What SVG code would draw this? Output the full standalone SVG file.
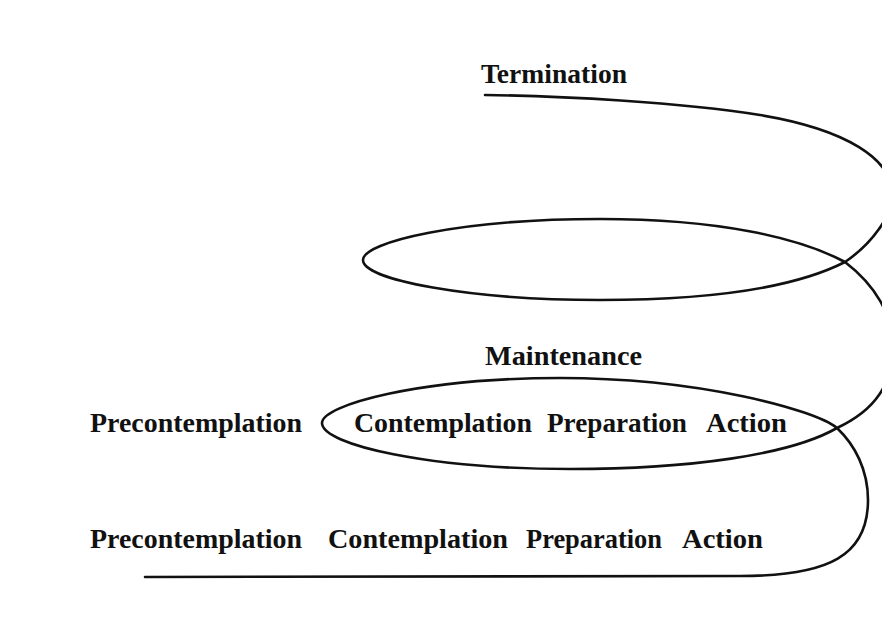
<svg xmlns="http://www.w3.org/2000/svg" width="882" height="618" viewBox="0 0 882 618">
<style>
.lbl{font-family:"Liberation Serif","Times New Roman",serif;font-weight:bold;font-size:27px;fill:#111}
.spiral{fill:none;stroke:#111;stroke-width:2.6;stroke-linecap:round;stroke-linejoin:round}
</style>
<rect width="882" height="618" fill="#fff"/>
<g id="connectors">
<path class="spiral" d="M145,577 L740,576 C830,576 868,555 868,500 C868,470 855,445 837,428 C815,410 700,378 560,378 C420,378 322,405 322,423 C322,445 430,469 570,469 C690,469 790,455 837,428 C875,410 893,385 892,345 C893,315 875,285 845,262 C800,238 720,219 600,219 C460,219 363,242 363,260 C363,280 470,300 600,300 C700,300 790,290 845,262 C870,245 895,215 892,190 C889,160 850,130 760,115 C680,102 560,96 485,95"/>
</g>
<g id="termination"><text class="lbl" x="481" y="83" textLength="146" lengthAdjust="spacingAndGlyphs">Termination</text></g>
<g id="maintenance"><text class="lbl" x="485" y="365" textLength="157" lengthAdjust="spacingAndGlyphs">Maintenance</text></g>
<g id="precontemplation-2"><text class="lbl" x="90" y="432" textLength="212" lengthAdjust="spacingAndGlyphs">Precontemplation</text></g>
<g id="contemplation-2"><text class="lbl" x="354" y="432" textLength="178" lengthAdjust="spacingAndGlyphs">Contemplation</text></g>
<g id="preparation-2"><text class="lbl" x="547" y="432" textLength="140" lengthAdjust="spacingAndGlyphs">Preparation</text></g>
<g id="action-2"><text class="lbl" x="706" y="432" textLength="81" lengthAdjust="spacingAndGlyphs">Action</text></g>
<g id="precontemplation-1"><text class="lbl" x="90" y="548" textLength="212" lengthAdjust="spacingAndGlyphs">Precontemplation</text></g>
<g id="contemplation-1"><text class="lbl" x="328" y="548" textLength="180" lengthAdjust="spacingAndGlyphs">Contemplation</text></g>
<g id="preparation-1"><text class="lbl" x="526" y="548" textLength="136" lengthAdjust="spacingAndGlyphs">Preparation</text></g>
<g id="action-1"><text class="lbl" x="682" y="548" textLength="81" lengthAdjust="spacingAndGlyphs">Action</text></g>
</svg>
